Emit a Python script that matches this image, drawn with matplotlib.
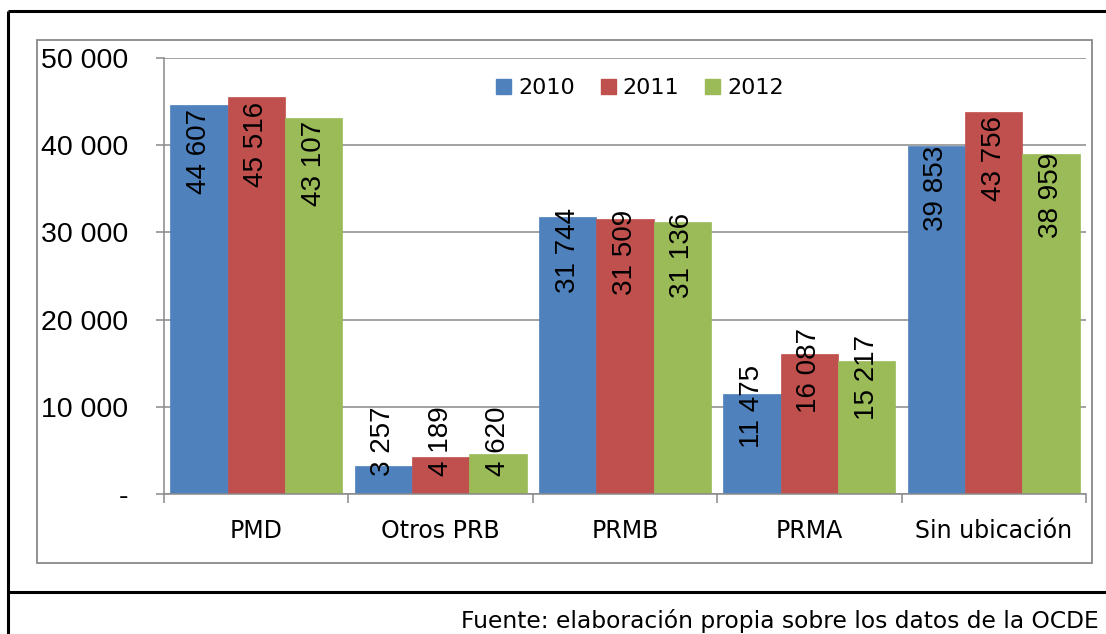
import matplotlib.pyplot as plt
from matplotlib.lines import Line2D
from matplotlib.patches import Rectangle, Patch

# Data
categories = ['PMD', 'Otros PRB', 'PRMB', 'PRMA', 'Sin ubicación']
years = ['2010', '2011', '2012']
v2010 = [44607, 3257, 31744, 11475, 39853]
v2011 = [45516, 4189, 31509, 16087, 43756]
v2012 = [43107, 4620, 31136, 15217, 38959]
y_ticks = [0, 10000, 20000, 30000, 40000, 50000]
y_tick_labels = ['-', '10 000', '20 000', '30 000', '40 000', '50 000']
source = 'Fuente: elaboración propia sobre los datos de la OCDE'

colors = ['#4F81BD', '#C0504D', '#9BBB59']
grey = '#898989'
arial = ['Liberation Sans', 'DejaVu Sans']
tahoma = ['DejaVu Sans']

W, H = 1106, 634
fig = plt.figure(figsize=(W / 100, H / 100), dpi=100)


def fx(px):
    return px / W


def fy(py):
    return 1 - py / H


# outer black frame and the separator above the source line
for xs, ys in [([8, 8], [11, H]), ([8, W], [11, 11]), ([8, W], [592, 592])]:
    fig.add_artist(Line2D([fx(x) for x in xs], [fy(y) for y in ys],
                          color='black', lw=2.2, solid_capstyle='butt'))

# grey chart-area border
fig.add_artist(Rectangle((fx(37), fy(563)), fx(1092) - fx(37), fy(40) - fy(563),
                         fill=False, edgecolor=grey, lw=1.3))

ax = fig.add_axes([fx(164), fy(494), fx(1086) - fx(164), fy(58) - fy(494)])

series = [v2010, v2011, v2012]
bw = 0.311
for k, vals in enumerate(series):
    xs = [i + (k - 1) * bw for i in range(len(categories))]
    ax.bar(xs, vals, width=bw, color=colors[k], edgecolor=colors[k], lw=0.5,
           zorder=2)
    for x, v in zip(xs, vals):
        # labels sit inside the bar near its end; short bars push them up
        ymid = max(0.88 * v, 6100)
        ax.text(x, ymid, f'{v:,}'.replace(',', ' '), rotation=90,
                ha='center', va='center', fontsize=20, family=arial, zorder=3)

ax.set_xlim(-0.5, len(categories) - 0.5)
ax.set_ylim(0, 50000)

ax.set_yticks(y_ticks)
ax.set_yticklabels(y_tick_labels, family=arial, fontsize=20.5)
ax.tick_params(axis='y', direction='out', length=5.8, width=1.1, color=grey,
               pad=20)
ax.grid(axis='y', color=grey, lw=1.1, zorder=0)

ax.set_xticks([i - 0.5 for i in range(len(categories) + 1)])
ax.set_xticklabels([])
ax.tick_params(axis='x', which='major', direction='out', length=6.5, width=1.1,
               color=grey)
ax.set_xticks(range(len(categories)), minor=True)
ax.set_xticklabels(categories, minor=True, family=tahoma, fontsize=17)
ax.tick_params(axis='x', which='minor', length=0, pad=18)

for s in ['top', 'right']:
    ax.spines[s].set_visible(False)
for s in ['left', 'bottom']:
    ax.spines[s].set_color(grey)
    ax.spines[s].set_linewidth(1.1)

handles = [Patch(facecolor=c, edgecolor=c) for c in colors]
ax.legend(handles, years, loc='center', bbox_to_anchor=(fx(640), fy(88)),
          bbox_transform=fig.transFigure, ncol=3, frameon=False,
          prop={'family': tahoma, 'size': 16}, handlelength=0.68,
          handleheight=0.68, handletextpad=0.3, columnspacing=1.17,
          borderpad=0)

fig.text(fx(1099), fy(628), source, ha='right', va='baseline',
         family=tahoma, fontsize=16.8)

fig.savefig('out.png', dpi=100)
